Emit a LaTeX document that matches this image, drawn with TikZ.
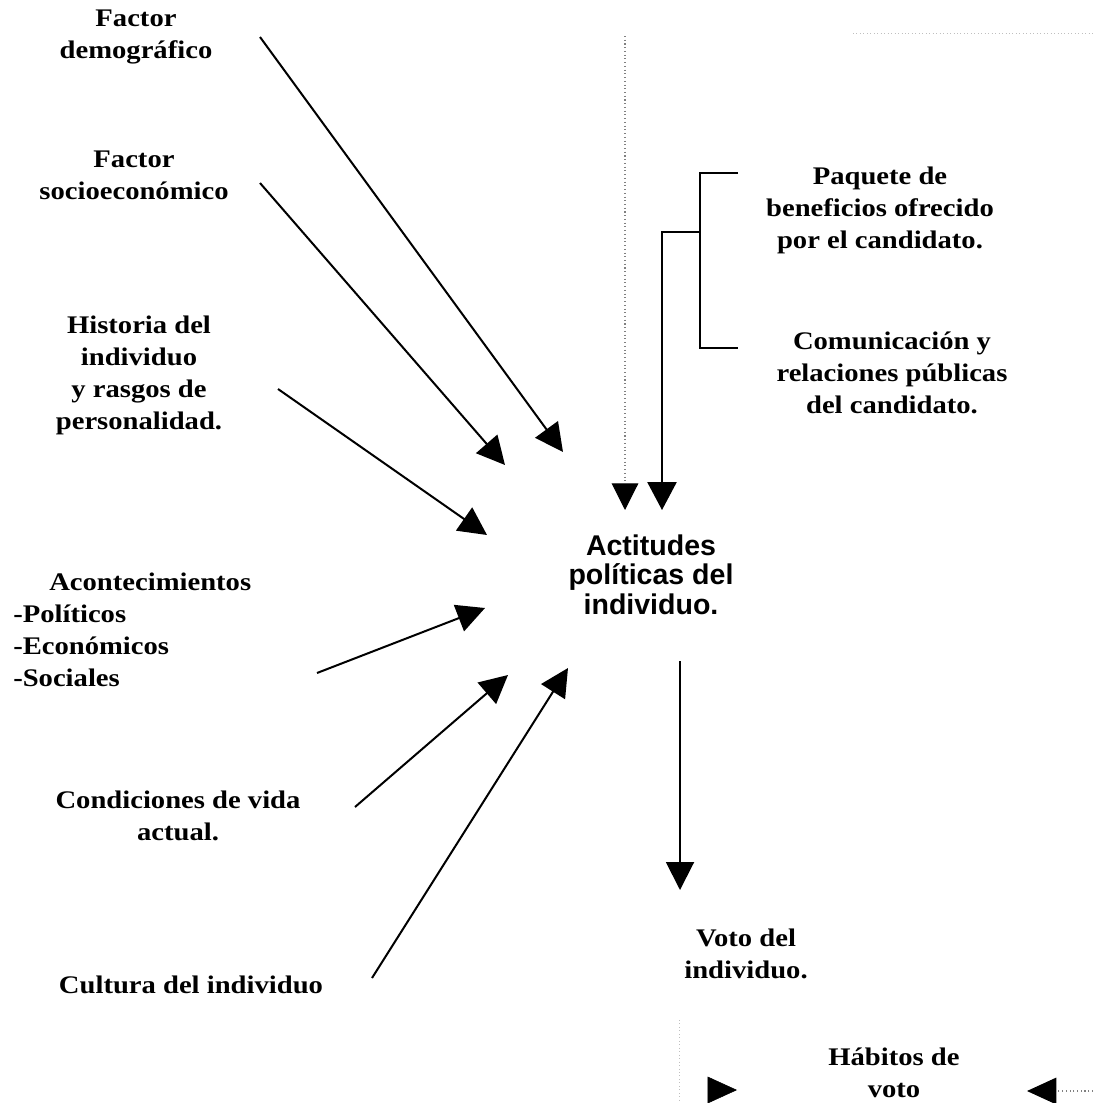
\documentclass[tikz,border=0pt]{standalone}
\usepackage{fontspec}
\setmainfont{Liberation Serif}[FakeStretch=1.13]
\newfontfamily\sansact{Liberation Sans}
\usepackage{tikz}
\usetikzlibrary{arrows.meta}

\begin{document}
\begin{tikzpicture}[x=0.75pt, y=-0.75pt,
  lbl/.style={font=\fontsize{19}{24}\selectfont\bfseries, align=center, inner sep=0pt, anchor=base},
  cen/.style={font=\sansact\fontsize{21.4}{22}\selectfont\bfseries, align=center, inner sep=0pt, anchor=base},
  ar/.style={-{Triangle[length=21pt, width=21pt]}, line width=1.5pt},
  brk/.style={line width=1.1pt},
  fb/.style={dotted, line width=0.8pt, black!50},
  fnt/.style={dotted, line width=0.6pt, black!25}]
\useasboundingbox (0,0) rectangle (1093,1103);
% ---- factors (left column), placed by the baseline of their last line
\node[lbl] (dem) at (136,58) {Factor\\demográfico};
\node[lbl] (soc) at (134,199) {Factor\\socioeconómico};
\node[lbl] (hist) at (139,429) {Historia del\\individuo\\y rasgos de\\personalidad.};
\node[lbl, align=left, anchor=base west] (acon) at (13,686) {\hspace*{27pt}Acontecimientos\\-Políticos\\-Económicos\\-Sociales};
\node[lbl] (cond) at (178,840) {Condiciones de vida\\actual.};
\node[lbl] (cult) at (191,993) {Cultura del individuo};
% ---- centre and candidate (right)
\node[cen] (act) at (651,614) {Actitudes\\políticas del\\individuo.};
\node[lbl] (paq) at (880,248) {Paquete de\\beneficios ofrecido\\por el candidato.};
\node[lbl] (com) at (892,413) {Comunicación y\\relaciones públicas\\del candidato.};
% ---- outcome
\node[lbl] (voto) at (746,978) {Voto del\\individuo.};
\node[lbl] (hab) at (894,1097) {Hábitos de\\voto};
% ---- arrow ends
\coordinate (demS) at (260,37);   \coordinate (demT) at (563,452);
\coordinate (socS) at (260,183);  \coordinate (socT) at (505,465);
\coordinate (histS) at (278,389); \coordinate (histT) at (487,535);
\coordinate (aconS) at (317,673); \coordinate (aconT) at (485,608);
\coordinate (condS) at (355,807); \coordinate (condT) at (508,675);
\coordinate (cultS) at (372,978); \coordinate (cultT) at (568,668);
\coordinate (fbTop) at (625,36);  \coordinate (fbT) at (625,510);
\coordinate (brA) at (738,173);   \coordinate (brB) at (738,348);
\coordinate (brM) at (700,232);   \coordinate (canT) at (662,510);
\coordinate (votS) at (680,661);  \coordinate (votT) at (680,890);
\coordinate (habL) at (708,1090); \coordinate (habLT) at (737,1090);
\coordinate (habR) at (1093,1091); \coordinate (habRT) at (1027,1091);
% ---- influences on the attitudes
\draw[ar] (demS) -- (demT);
\draw[ar] (socS) -- (socT);
\draw[ar] (histS) -- (histT);
\draw[ar] (aconS) -- (aconT);
\draw[ar] (condS) -- (condT);
\draw[ar] (cultS) -- (cultT);
\draw[fb, -{Triangle[length=20pt, width=20pt, black]}] (fbTop) -- (fbT);
\draw[brk] (brA) -- (brA -| brM) -- (brB -| brM) -- (brB);
\draw[brk, -{Triangle[length=21pt, width=22pt]}] (brM) -- (brM -| canT) -- (canT);
% ---- vote and habits
\draw[ar] (votS) -- (votT);
\draw[-{Triangle[length=22pt, width=20pt]}] (habL) -- (habLT);
\draw[fb, -{Triangle[length=22pt, width=20pt, black]}] (habR) -- (habRT);
\draw[fnt] (853,33) -- (1093,33);
\draw[fnt] (679,1020) -- (679,1103);
\end{tikzpicture}
\end{document}
